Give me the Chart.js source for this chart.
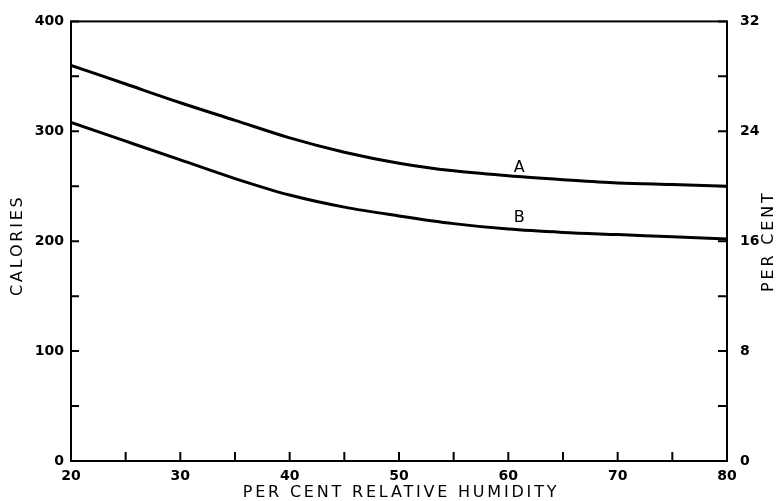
<!DOCTYPE html>
<html>
<head>
<meta charset="utf-8">
<script src="https://cdn.jsdelivr.net/npm/chart.js@4"></script>
<style>
  html, body { margin: 0; background: #fff; }
</style>
</head>
<body>
<canvas id="graph" width="777" height="501"></canvas>
<script>
// valeurs
const humidite = [20, 25, 30, 35, 40, 45, 50, 55, 60, 65, 70, 75, 80];
const courbeA = [360, 343, 326, 310, 294, 281, 271, 264, 259.5, 256, 253, 251.5, 250];
const courbeB = [308, 291, 274, 257, 242, 231, 223, 216, 211, 208, 206, 204, 202];
const lettres = ['A', 'B'];
const lettresX = [61, 61];
const lettresY = [267, 221];

const police = '"DejaVu Sans", sans-serif';

//----------- cadre, petits traits, lettres et titres ------------
const cadre = {
  id: 'cadre',
  afterDraw(chart) {
    const ctx = chart.ctx;
    const area = chart.chartArea;
    const { x, y, y2 } = chart.scales;
    ctx.save();
    ctx.strokeStyle = '#000';
    ctx.lineWidth = 2;
    ctx.strokeRect(area.left, area.top, area.right - area.left, area.bottom - area.top);

    ctx.beginPath();
    x.ticks.forEach(t => {
      const px = x.getPixelForValue(t.value);
      ctx.moveTo(px, area.bottom);
      ctx.lineTo(px, area.bottom - 9);
    });
    y.ticks.forEach(t => {
      const py = y.getPixelForValue(t.value);
      ctx.moveTo(area.left, py);
      ctx.lineTo(area.left + 8, py);
    });
    y2.ticks.forEach(t => {
      const py = y2.getPixelForValue(t.value);
      ctx.moveTo(area.right, py);
      ctx.lineTo(area.right - 9, py);
    });
    ctx.stroke();

    // A et B
    ctx.fillStyle = '#000';
    ctx.font = '16px ' + police;
    ctx.textAlign = 'center';
    ctx.textBaseline = 'middle';
    lettres.forEach((l, i) => {
      ctx.fillText(l, x.getPixelForValue(lettresX[i]), y.getPixelForValue(lettresY[i]));
    });

    // titres des axes
    ctx.letterSpacing = '2.8px';
    ctx.font = '16px ' + police;
    const milieu = (area.top + area.bottom) / 2;
    ctx.fillText('PER CENT RELATIVE HUMIDITY', (area.left + area.right) / 2 + 2, 493);

    ctx.translate(18, milieu + 4);
    ctx.rotate(-Math.PI / 2);
    ctx.fillText('CALORIES', 0, 0);
    ctx.restore();

    ctx.save();
    ctx.fillStyle = '#000';
    ctx.letterSpacing = '2.8px';
    ctx.font = '16px ' + police;
    ctx.textAlign = 'center';
    ctx.textBaseline = 'middle';
    ctx.translate(769, milieu);
    ctx.rotate(-Math.PI / 2);
    ctx.fillText('PER CENT', 0, 0);
    ctx.restore();
  }
};

const policeTicks = { family: police, size: 14, weight: 'bold' };

new Chart(document.getElementById('graph'), {
  type: 'line',
  data: {
    datasets: [
      {
        label: 'A',
        data: humidite.map((h, i) => ({ x: h, y: courbeA[i] })),
        borderColor: '#000',
        borderWidth: 3,
        pointRadius: 0,
        cubicInterpolationMode: 'monotone'
      },
      {
        label: 'B',
        data: humidite.map((h, i) => ({ x: h, y: courbeB[i] })),
        borderColor: '#000',
        borderWidth: 3,
        pointRadius: 0,
        cubicInterpolationMode: 'monotone'
      }
    ]
  },
  options: {
    responsive: false,
    animation: false,
    devicePixelRatio: 1,
    layout: { padding: { top: 15 } },
    plugins: { legend: { display: false }, tooltip: { enabled: false } },
    scales: {
      x: {
        type: 'linear',
        min: 20,
        max: 80,
        grid: { display: false, drawTicks: false },
        border: { display: false },
        afterFit: s => { s.height = 40; },
        ticks: {
          stepSize: 5,
          autoSkip: false,
          maxRotation: 0,
          padding: 7,
          color: '#000',
          font: policeTicks,
          callback: v => (v % 10 === 0 ? v : '')
        }
      },
      y: {
        position: 'left',
        min: 0,
        max: 400,
        grid: { display: false, drawTicks: false },
        border: { display: false },
        afterFit: s => { s.width = 71; },
        ticks: {
          stepSize: 50,
          padding: 7,
          color: '#000',
          font: policeTicks,
          callback: v => (v % 100 === 0 ? v : '')
        }
      },
      y2: {
        position: 'right',
        min: 0,
        max: 32,
        grid: { display: false, drawTicks: false },
        border: { display: false },
        afterFit: s => { s.width = 50; },
        ticks: {
          stepSize: 4,
          padding: 13,
          color: '#000',
          font: policeTicks,
          callback: v => (v % 8 === 0 ? v : '')
        }
      }
    }
  },
  plugins: [cadre]
});
</script>
</body>
</html>
